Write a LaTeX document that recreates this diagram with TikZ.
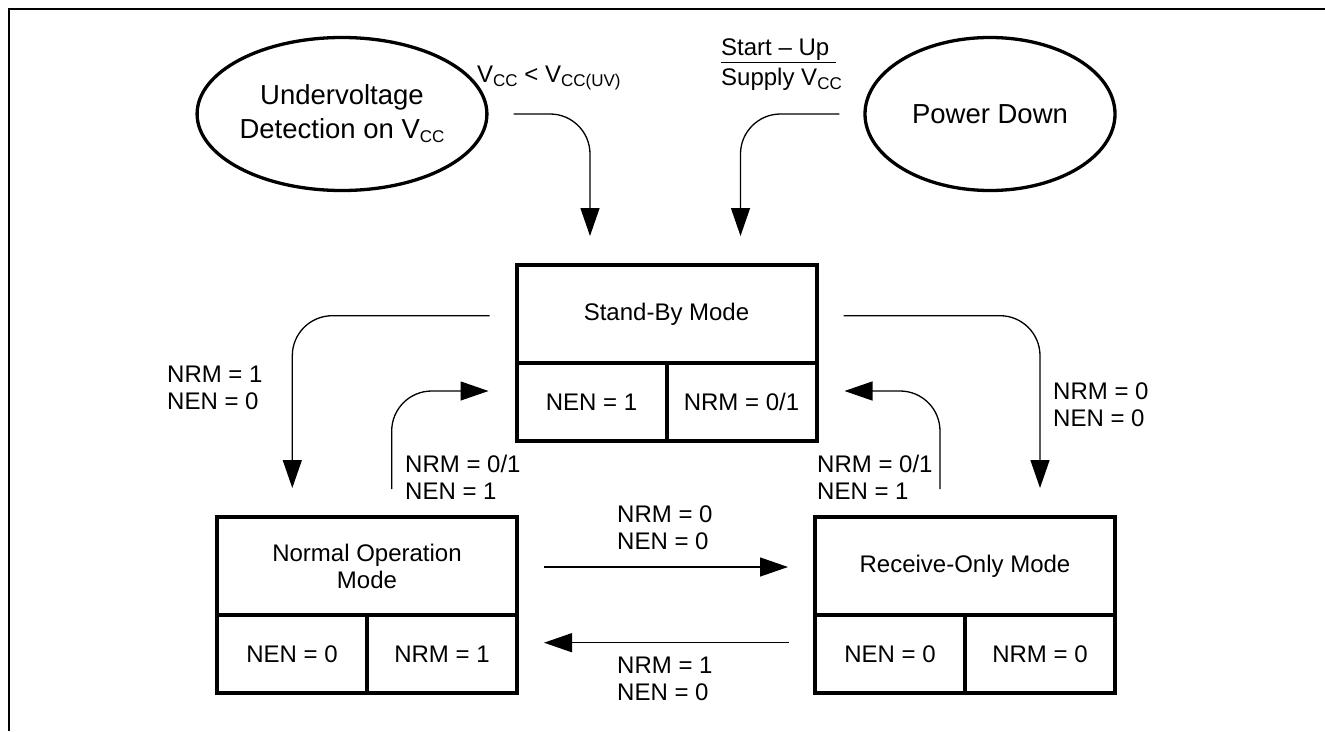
\documentclass[tikz,border=0pt]{standalone}
\usepackage{fontspec}
\setmainfont{Liberation Sans}
\usetikzlibrary{arrows.meta,calc,shapes.geometric}
\newcommand{\mysub}[1]{\raisebox{-0.28ex}{\fontsize{17}{17}\selectfont #1}}
\begin{document}
\begin{tikzpicture}[x=1pt,y=-1pt,
  conn/.style={line width=1.3pt, -{Triangle[length=28pt,width=19pt]}},
  modebox/.style={draw, line width=4pt, minimum width=300pt, minimum height=98pt, inner sep=0pt, align=center, font=\fontsize{24}{27}\selectfont},
  cellbox/.style={draw, line width=4pt, minimum width=150pt, minimum height=78pt, inner sep=0pt, font=\fontsize{24}{27}\selectfont},
  oval/.style={draw, ellipse, line width=3.3pt, minimum width=250pt, minimum height=153pt, inner sep=0pt, align=center, font=\fontsize{27.5}{34}\selectfont},
  lbl/.style={anchor=west, inner sep=0pt, align=left, font=\fontsize{24}{27}\selectfont}]
\useasboundingbox[fill=white] (0,0) rectangle (1325,731);
% frame
\draw[line width=1.5pt] (1325,9) -- (9,9) -- (9,731);
% ellipses
\node[oval] (uv) at (342,114) {Undervoltage\\Detection on V\mysub{CC}};
\node[oval] (pd) at (990,114) {Power Down};
% stand-by
\node[modebox] (sbt) at (666.5,314) {Stand-By Mode};
\node[cellbox] (sb1) at (591.5,402) {NEN = 1};
\node[cellbox] (sb2) at (741.5,402) {NRM = 0/1};
% normal
\node[modebox] (nt) at (367,566) {Normal Operation\\Mode};
\node[cellbox] (nc1) at (292,654) {NEN = 0};
\node[cellbox] (nc2) at (442,654) {NRM = 1};
% receive
\node[modebox] (rt) at (965,566) {Receive-Only Mode};
\node[cellbox] (rc1) at (890,654) {NEN = 0};
\node[cellbox] (rc2) at (1040,654) {NRM = 0};
% labels
\node[lbl] (l1) at (477,78) {V\mysub{CC} < V\mysub{CC(UV)}};
\node[lbl, font=\fontsize{24}{30}\selectfont] (l2) at (721,65) {\underline{Start – Up~}\\Supply V\mysub{CC}};
\node[lbl] (l3) at (167,388) {NRM = 1\\NEN = 0};
\node[lbl] (l4) at (1053,405) {NRM = 0\\NEN = 0};
\node[lbl] (l5) at (405,477.5) {NRM = 0/1\\NEN = 1};
\node[lbl] (l6) at (817,477.5) {NRM = 0/1\\NEN = 1};
\node[lbl] (l7) at (617,528) {NRM = 0\\NEN = 0};
\node[lbl] (l8) at (617,679) {NRM = 1\\NEN = 0};
% connectors
\draw[conn, rounded corners=40pt] ($(uv.east)+(25,0)$) -| ($(sbt.north)+(-76.5,-27)$);
\draw[conn, rounded corners=40pt] ($(pd.west)+(-24,0)$) -| ($(sbt.north)+(74,-27)$);
\draw[conn, rounded corners=40pt] ($(sbt.west)+(-25,1.7)$) -| ($(nt.north)+(-74.7,-27)$);
\draw[conn, rounded corners=40pt] ($(nt.north)+(24.7,-26)$) |- ($(sb1.west)+(-26,-11)$);
\draw[conn, rounded corners=40pt] ($(sbt.east)+(25,1.7)$) -| ($(rt.north)+(75,-27)$);
\draw[conn, rounded corners=40pt] ($(rt.north)+(-25,-26)$) |- ($(sb2.east)+(26,-11)$);
\draw[conn] ($(nt.east)+(25,1)$) -- ($(rt.west)+(-25,1)$);
\draw[conn] ($(rc1.west)+(-24,-11.3)$) -- ($(nc2.east)+(25,-11.3)$);
\end{tikzpicture}
\end{document}
